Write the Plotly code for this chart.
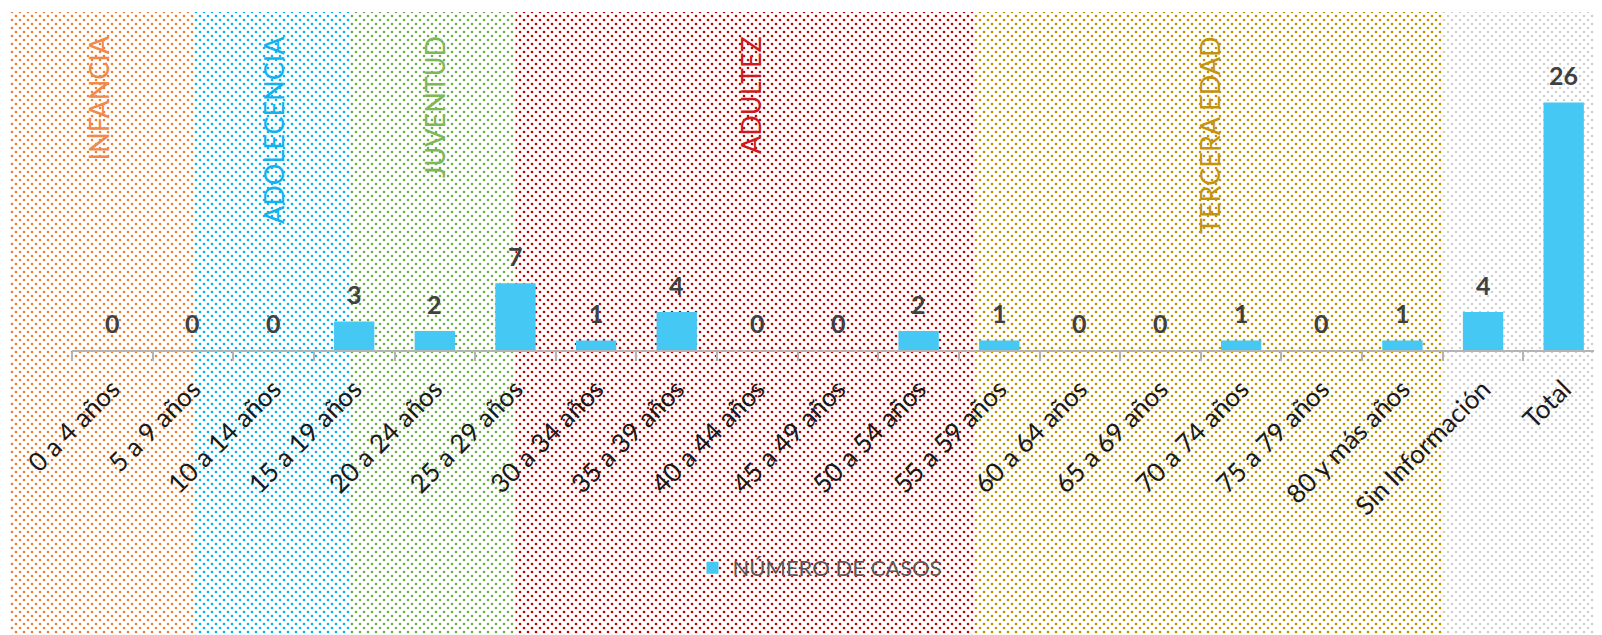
import plotly.graph_objects as go

# Datos del gráfico
grupos_edad = ['0 a 4 años', '5 a 9 años', '10 a 14 años', '15 a 19 años', '20 a 24 años',
               '25 a 29 años', '30 a 34 años', '35 a 39 años', '40 a 44 años', '45 a 49 años',
               '50 a 54 años', '55 a 59 años', '60 a 64 años', '65 a 69 años', '70 a 74 años',
               '75 a 79 años', '80 y más años', 'Sin Información', 'Total']
casos = [0, 0, 0, 3, 2, 7, 1, 4, 0, 0, 2, 1, 0, 0, 1, 0, 1, 4, 26]
serie = 'NÚMERO DE CASOS'

etapas = ['INFANCIA', 'ADOLECENCIA', 'JUVENTUD', 'ADULTEZ', 'TERCERA EDAD', '']

# Franjas de fondo (en px de la figura; la página añade 8 px de margen) y estilos
W, H = 1602, 635
bordes = [0, 185, 344, 508, 967, 1435, 1602]
colores_punto = ['#ED7D31', '#00B0F0', '#70AD47', '#C00000', '#BF9000', '#D0D0D0']
colores_texto = ['#F08A4C', '#13B2EF', '#7DB857', '#CC1A22', '#C39310', '#000000']
etiqueta_x = [90, 266, 427, 743, 1202, 0]
fondo_top = 4

centros = [(a + b) / 2 for a, b in zip(bordes[:-1], bordes[1:])]
anchos = [b - a for a, b in zip(bordes[:-1], bordes[1:])]

fig = go.Figure()

# Dos capas de puntos desplazadas 4 px para dar el punteado al tresbolillo
for xa, ya in [('x', 'y'), ('x2', 'y2')]:
    fig.add_trace(go.Bar(
        x=centros, y=[H - fondo_top] * len(centros), width=anchos, base=0,
        xaxis=xa, yaxis=ya, showlegend=False, hoverinfo='skip',
        marker=dict(color='rgba(0,0,0,0)', line=dict(width=0),
                    pattern=dict(shape='.', fgcolor=colores_punto,
                                 bgcolor='rgba(0,0,0,0)', size=8, solidity=0.085,
                                 fillmode='replace')),
    ))

bar_color = '#46C8F5'
fig.add_trace(go.Bar(
    x=grupos_edad, y=casos, name=serie, xaxis='x3', yaxis='y3',
    marker=dict(color=bar_color, line=dict(width=0)),
))

# Etiquetas de valor
for g, v in zip(grupos_edad, casos):
    fig.add_annotation(x=g, y=v, xref='x3', yref='y3', text=str(v), showarrow=False,
                       yanchor='bottom', yshift=10,
                       font=dict(family='Lato', size=25, color='#404040', weight='bold'))

# Etiquetas de etapas
for nombre, cx, col in zip(etapas, etiqueta_x, colores_texto):
    if not nombre:
        continue
    fig.add_annotation(x=cx / W, y=1 - 26 / H, xref='paper', yref='paper', text=nombre,
                       textangle=-90, showarrow=False, xanchor='center', yanchor='top',
                       font=dict(family='Lato', size=27, color=col))

px_unidad = 9.52
eje_y_px = 342
fig.update_layout(
    width=W, height=H,
    margin=dict(l=0, r=0, t=0, b=0, autoexpand=False),
    paper_bgcolor='white', plot_bgcolor='rgba(0,0,0,0)',
    bargap=0.5,
    xaxis=dict(domain=[0, 1], range=[0, W], visible=False, fixedrange=True),
    yaxis=dict(domain=[0, 1], range=[0, H], visible=False, fixedrange=True),
    xaxis2=dict(domain=[4 / W, 1], range=[4, W], visible=False, fixedrange=True),
    yaxis2=dict(domain=[0, 1 - 4 / H], range=[0, H - 4], visible=False, fixedrange=True),
    xaxis3=dict(domain=[64 / W, 1596 / W], range=[-0.5, 18.5], type='category',
                anchor='y3', showline=True, linecolor='#B4B4B4', linewidth=1.5,
                ticks='outside', tickson='boundaries', ticklen=9, tickcolor='#B4B4B4',
                tickwidth=1.5, tickangle=-45, showgrid=False, automargin=False,
                ticklabelstandoff=12,
                tickfont=dict(family='Lato', size=26, color='#1A1A1A')),
    yaxis3=dict(domain=[(H - eje_y_px) / H, 1], range=[0, eje_y_px / px_unidad],
                anchor='x3', visible=False, showgrid=False, automargin=False),
    legend=dict(orientation='h', x=812 / W, y=1 - 560 / H, xanchor='center',
                yanchor='middle', bgcolor='rgba(0,0,0,0)',
                font=dict(family='Lato', size=22, color='#595959')),
)

fig.write_html('out.html')
